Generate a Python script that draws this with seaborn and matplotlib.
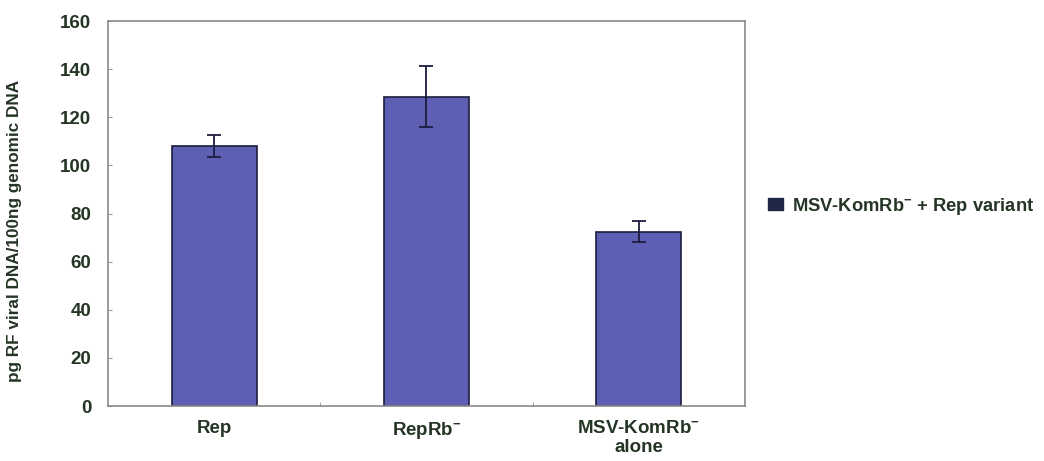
import matplotlib
matplotlib.use("Agg")
import matplotlib.pyplot as plt
import matplotlib.patches as mpatches
from matplotlib.ticker import MultipleLocator, FixedLocator
import seaborn as sns
import pandas as pd

categories = ["Rep", "RepRb$^{-}$", "MSV-KomRb$^{-}$\nalone"]
values = [108.0, 128.5, 72.5]
errors = [4.5, 12.7, 4.5]
series_name = "MSV-KomRb$^{-}$ + Rep variant"

sns.set_style("white")
plt.rcParams["font.family"] = ["Liberation Sans", "DejaVu Sans"]
plt.rcParams["font.weight"] = "bold"
plt.rcParams["mathtext.fontset"] = "custom"
plt.rcParams["mathtext.rm"] = "Liberation Sans:bold"
plt.rcParams["mathtext.default"] = "rm"

text_col = "#253525"
bar_col = "#5d5fb2"
edge_col = "#1b1d3e"
fs = 13.5

df = pd.DataFrame({"condition": categories, "amount": values})

fig = plt.figure(figsize=(10.44, 4.61), dpi=100)
ax = fig.add_axes([0.1034, 0.1193, 0.6102, 0.8351])

sns.barplot(data=df, x="condition", y="amount", color=bar_col, width=0.4,
            edgecolor=edge_col, linewidth=1.2, errorbar=None, saturation=1, ax=ax)
ax.errorbar(range(len(categories)), values, yerr=errors, fmt="none",
            ecolor=edge_col, elinewidth=1.3, capsize=5, capthick=1.3)

ax.set_ylim(0, 160)
ax.set_xlim(-0.5, 2.5)
ax.yaxis.set_major_locator(MultipleLocator(20))
ax.xaxis.set_minor_locator(FixedLocator([0.5, 1.5]))
ax.tick_params(axis="y", which="major", direction="in", length=3, color="#999999",
               labelsize=fs, labelcolor=text_col, pad=12, left=True)
ax.tick_params(axis="x", which="major", length=0, labelsize=fs, labelcolor=text_col, pad=10)
ax.tick_params(axis="x", which="minor", direction="in", length=3, color="#999999", bottom=True)
for lab in ax.get_xticklabels() + ax.get_yticklabels():
    lab.set_fontweight("bold")

for s in ax.spines.values():
    s.set_visible(True)
    s.set_color("#8a8a8a")
    s.set_linewidth(1.2)

ax.set_xlabel("")
ax.set_ylabel("pg RF viral DNA/100ng genomic DNA", fontsize=12.3, color=text_col,
              fontweight="bold")
ax.yaxis.set_label_coords(-0.135, 0.455)

handle = mpatches.Patch(facecolor="#1e2846", edgecolor="#1e2846", label=series_name)
leg = fig.legend(handles=[handle], loc="center left", bbox_to_anchor=(0.72, 0.553),
                 frameon=False, fontsize=13.2, handlelength=0.8, handleheight=0.6,
                 handletextpad=0.5)
for t in leg.get_texts():
    t.set_color(text_col)
    t.set_fontweight("bold")

fig.savefig("out.png", dpi=100)
